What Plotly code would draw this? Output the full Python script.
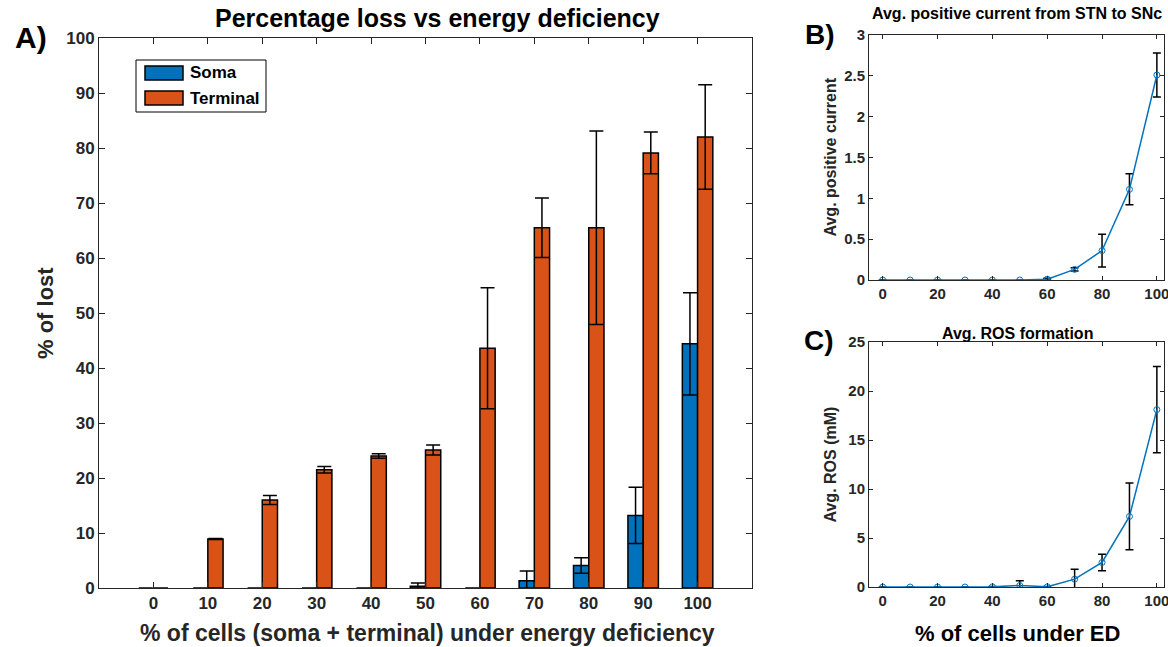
import plotly.graph_objects as go

# ---------------- data ----------------
ed_levels = [0, 10, 20, 30, 40, 50, 60, 70, 80, 90, 100]

soma_loss = [0, 0, 0, 0, 0, 0.3, 0, 1.3, 4.1, 13.2, 44.4]
soma_err = [None, None, None, None, None, 0.6, None, 1.8, 1.4, 5.1, 9.3]
terminal_loss = [0, 8.9, 16.0, 21.5, 24.0, 25.1, 43.6, 65.5, 65.5, 79.1, 82.0]
terminal_err = [None, 0.1, 0.8, 0.6, 0.4, 0.9, 11.0, 5.4, 17.6, 3.8, 9.5]

current_mean = [0, 0, 0, 0, 0, 0, 0.01, 0.13, 0.36, 1.11, 2.51]
current_err = [0, 0, 0, 0, 0, 0, 0.01, 0.02, 0.20, 0.19, 0.27]

ros_mean = [0, 0, 0, 0, 0.02, 0.15, 0.02, 0.8, 2.5, 7.2, 18.1]
ros_err = [0, 0, 0, 0, 0.02, 0.5, 0.02, 1.0, 0.85, 3.4, 4.4]

legend_labels = ["Soma", "Terminal"]

# ---------------- style ----------------
BLUE = "#0072BD"
ORANGE = "#D95319"
AX = "#262626"
FONT = "Liberation Sans"
W, H = 1168, 647


def px(x):
    return x / W


def py(y):
    return 1 - y / H


def outline_widths(vals):
    # zero-height bars sit on the axis line and show no outline
    return [1.5 if v > 0 else 0 for v in vals]


fig = go.Figure()

fig.add_trace(go.Bar(
    x=ed_levels, y=soma_loss, name=legend_labels[0],
    marker=dict(color=BLUE, line=dict(color="black", width=outline_widths(soma_loss))),
    error_y=dict(type="data", array=soma_err, color="black", thickness=1.5, width=7),
    xaxis="x", yaxis="y"))
fig.add_trace(go.Bar(
    x=ed_levels, y=terminal_loss, name=legend_labels[1],
    marker=dict(color=ORANGE, line=dict(color="black", width=outline_widths(terminal_loss))),
    error_y=dict(type="data", array=terminal_err, color="black", thickness=1.5, width=7),
    xaxis="x", yaxis="y"))

fig.add_trace(go.Scatter(
    x=ed_levels, y=current_mean, mode="lines+markers", showlegend=False,
    line=dict(color=BLUE, width=1.5),
    marker=dict(symbol="circle-open", size=6, color=BLUE, line=dict(width=1)),
    error_y=dict(type="data", array=current_err, color="black", thickness=1.5, width=4),
    xaxis="x2", yaxis="y2"))

fig.add_trace(go.Scatter(
    x=ed_levels, y=ros_mean, mode="lines+markers", showlegend=False,
    line=dict(color=BLUE, width=1.5),
    marker=dict(symbol="circle-open", size=6, color=BLUE, line=dict(width=1)),
    error_y=dict(type="data", array=ros_err, color="black", thickness=1.5, width=4),
    xaxis="x3", yaxis="y3"))


def axis_style(size, ticklen):
    return dict(showline=True, linecolor=AX, linewidth=1, mirror="ticks", ticks="inside",
                tickcolor=AX, ticklen=ticklen, showgrid=False, zeroline=False,
                ticklabeloverflow="allow",
                tickfont=dict(family=FONT, size=size, color=AX, weight="bold"))


# Panel positions (pixels)
ax_l, ax_r, ax_t, ax_b = 99, 752, 38, 588
bx_l, bx_r = 869, 1164
b_t, b_b = 35, 280
c_t, c_b = 342, 587

fig.update_layout(
    width=W, height=H, margin=dict(l=0, r=0, t=0, b=0, autoexpand=False),
    paper_bgcolor="white", plot_bgcolor="white",
    barmode="group", bargap=0.44, bargroupgap=0,
    showlegend=False,
    xaxis=dict(domain=[px(ax_l), px(ax_r)], range=[-10, 110], tickvals=ed_levels, anchor="y", **axis_style(17, 6)),
    yaxis=dict(domain=[py(ax_b), py(ax_t)], range=[0, 100], dtick=10, anchor="x", **axis_style(17, 6)),
    xaxis2=dict(domain=[px(bx_l), px(bx_r)], range=[-5, 102.6], tickvals=[0, 20, 40, 60, 80, 100], anchor="y2",
                **axis_style(15, 4)),
    yaxis2=dict(domain=[py(b_b), py(b_t)], range=[0, 3], dtick=0.5, anchor="x2", **axis_style(15, 4)),
    xaxis3=dict(domain=[px(bx_l), px(bx_r)], range=[-5, 102.6], tickvals=[0, 20, 40, 60, 80, 100], anchor="y3",
                **axis_style(15, 4)),
    yaxis3=dict(domain=[py(c_b), py(c_t)], range=[0, 25], dtick=5, anchor="x3", **axis_style(15, 4)),
)


def ann(text, x, y, size, angle=0, color="black", xanchor="center"):
    fig.add_annotation(text=text, x=px(x), y=py(y), xref="paper", yref="paper", showarrow=False,
                       xanchor=xanchor, yanchor="middle", textangle=angle,
                       font=dict(family=FONT, size=size, color=color, weight="bold"))


# Legend box (drawn manually to match the wide MATLAB swatches)
lg_l, lg_r, lg_t, lg_b = 136, 266, 60, 112
fig.add_shape(type="rect", xref="paper", yref="paper", x0=px(lg_l), x1=px(lg_r), y0=py(lg_b), y1=py(lg_t),
              line=dict(color="black", width=1), fillcolor="white")
for i, (lab, col) in enumerate(zip(legend_labels, [BLUE, ORANGE])):
    yc = 73 + i * 25
    fig.add_shape(type="rect", xref="paper", yref="paper", x0=px(145), x1=px(183), y0=py(yc + 7), y1=py(yc - 7),
                  line=dict(color="black", width=1.5), fillcolor=col)
    ann(lab, 188, yc, 17, xanchor="left")

ann("Percentage loss vs energy deficiency", 437, 18, 25)
ann("% of cells (soma + terminal) under energy deficiency", 427, 633, 23, color=AX)
ann("% of lost", 45, 313, 22, angle=-90, color=AX)
ann("A)", 31, 38, 30)
ann("B)", 820, 35, 28)
ann("C)", 819, 340, 28)
ann("Avg. positive current from STN to SNc", 1017, 14, 16)
ann("Avg. positive current", 830, (b_t + b_b) / 2, 16, angle=-90, color=AX)
ann("Avg. ROS formation", 1017, 333, 16)
ann("Avg. ROS (mM)", 830, (c_t + c_b) / 2, 16, angle=-90, color=AX)
ann("% of cells under ED", 1017, 633, 22)

fig.write_html("out.html", config={"displayModeBar": False},
               post_script="document.body.style.margin='0';document.body.style.overflow='hidden';")
